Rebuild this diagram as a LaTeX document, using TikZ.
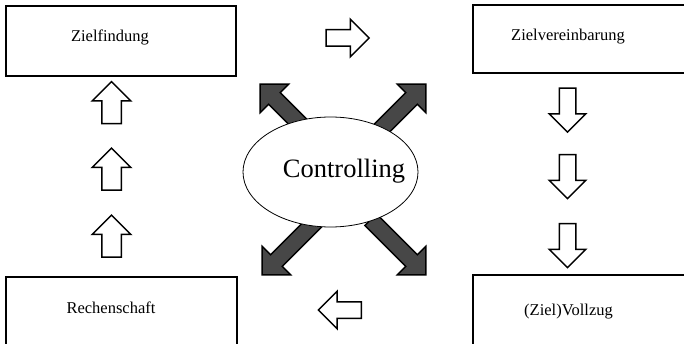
\documentclass[tikz,border=0pt]{standalone}
\usepackage{fontspec}
\setmainfont{Liberation Serif}
\usetikzlibrary{shapes.arrows,shapes.geometric}
\begin{document}
\begin{tikzpicture}[x=1pt,y=-1pt,
  boxline/.style={draw=black,line width=1.2pt},
  boxtext/.style={anchor=base,inner sep=0pt,font=\fontsize{16.5}{20}\selectfont},
  hollowarr/.style={single arrow,draw=black,line width=1.5pt,fill=white,
    inner xsep=0pt,text height=0pt,text depth=0pt,text width=0pt,
    minimum width=0pt,single arrow tip angle=90,single arrow head indent=0pt},
  harr/.style={hollowarr,inner ysep=7.5pt,single arrow head extend=10.5pt,minimum height=43pt},
  uarr/.style={hollowarr,inner ysep=9pt,single arrow head extend=9.5pt,minimum height=42pt,rotate=90},
  darr/.style={hollowarr,inner ysep=7.5pt,single arrow head extend=10pt,minimum height=44pt,rotate=-90},
  darkarr/.style={hollowarr,fill=black!72,line width=1.4pt,inner ysep=7.5pt,
    single arrow head extend=12pt,minimum height=78pt}]
\useasboundingbox (0,0) rectangle (684,344);
% boxes
\draw[boxline] (6,6) rectangle (236,76);
\draw[boxline] (473,5) rectangle (690,73);
\draw[boxline] (6,277) rectangle (237,352);
\draw[boxline] (473,275) rectangle (690,352);
\node[boxtext] (zf) at (110,42) {Zielfindung};
\node[boxtext] (zv) at (568,41) {Zielvereinbarung};
\node[boxtext] (rs) at (111,313) {Rechenschaft};
\node[boxtext] (vz) at (568.5,315) {(Ziel)Vollzug};
% hollow block arrows
\node[harr] (ar1) at (343.5,38) {};
\node[harr,rotate=180] (ar2) at (344,310) {};
\node[uarr] (au1) at (111.5,107.5) {};
\node[uarr] (au2) at (111.5,174) {};
\node[uarr] (au3) at (111.5,241) {};
\node[darr] (ad1) at (567.5,106) {};
\node[darr] (ad2) at (567.5,172.5) {};
\node[darr] (ad3) at (567.5,241.5) {};
% dark diagonal arrows
\node[darkarr,rotate=135] (anw) at (290.6,114.6) {};
\node[darkarr,rotate=45] (ane) at (395.4,114.6) {};
\node[darkarr,rotate=225] (asw) at (292.6,244.4) {};
\node[darkarr,rotate=-45] (ase) at (395.4,244.4) {};
% central ellipse
\node[ellipse,draw=black,line width=0.8pt,fill=white,minimum width=175pt,minimum height=110pt,inner sep=0pt] (ctrl) at (330.5,172) {};
\node[anchor=base,inner sep=0pt,font=\fontsize{26.5}{30}\selectfont] (ctrltext) at (344,178) {Controlling};
\end{tikzpicture}
\end{document}
